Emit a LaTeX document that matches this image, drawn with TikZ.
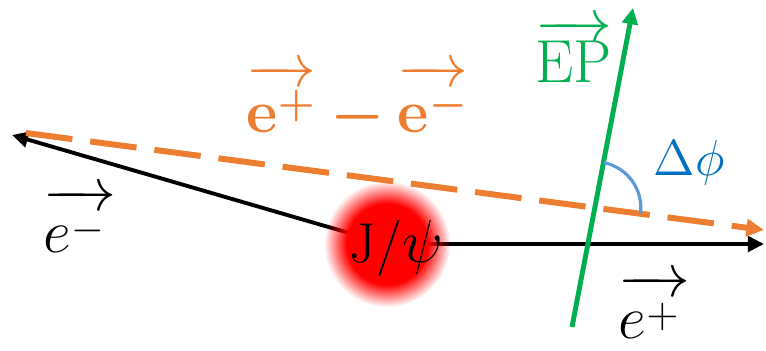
\documentclass[tikz,border=0pt]{standalone}
\usepackage{amsmath,amssymb,bm}
\usetikzlibrary{arrows.meta,positioning,calc,intersections,fadings}
\definecolor{eorange}{RGB}{237,125,49}
\definecolor{epgreen}{RGB}{0,176,80}
\definecolor{phiblue}{RGB}{0,112,192}
\definecolor{arcblue}{RGB}{91,155,213}
\newcommand{\vecup}[2][0.5em]{\overrightarrow{\smash[t]{#2}\rule{0pt}{#1}}}
\newcommand{\lowsup}[2][0.18em]{^{\raisebox{-#1}{$\scriptstyle #2$}}}
\pgfdeclareradialshading{glowshade}{\pgfpointorigin}{color(0bp)=(pgftransparent!0); color(16bp)=(pgftransparent!0); color(25bp)=(pgftransparent!100); color(50bp)=(pgftransparent!100)}
\pgfdeclarefading{glow}{\pgfuseshading{glowshade}}

\begin{document}
\begin{tikzpicture}[x=0.01cm,y=0.01cm,
  beam/.style={line width=1.1pt,-{Triangle[length=4.6pt,width=4.4pt]}},
  diffline/.style={eorange,line width=1.7pt,dash pattern=on 13.3pt off 5.1pt,-{Triangle[length=5pt,width=4.8pt]}},
  epline/.style={epgreen,line width=1.4pt,-{Triangle[length=4.6pt,width=4.4pt]}},
  lbl/.style={inner sep=0pt,anchor=base west}]
  \useasboundingbox (0,0) rectangle (766,350);
  % beams out of the J/psi
  \coordinate (jp) at (387,106);
  \coordinate (emtip) at (12,215); \coordinate (eptip) at (764,106);
  \draw[beam] (jp) -- (emtip);
  \draw[beam] (jp) -- (eptip);
  \fill[red,path fading=glow] (jp) circle (63);
  \node[lbl] (jpsi) at (349,88) {\fontsize{16}{18}\selectfont J/$\psi$};
  % difference vector and event plane
  \coordinate (dstart) at (26,217); \coordinate (dend) at (764,120);
  \coordinate (gbot) at (572,23); \coordinate (gtop) at (633,342);
  \draw[diffline,name path=diff] (dstart) -- (dend);
  \draw[epline,name path=ep] (gbot) -- (gtop);
  \path[name intersections={of=diff and ep,by=X}];
  \draw[arcblue,line width=0.9pt] ($(X)+(79.2:46)$) arc[start angle=79.2,end angle=-7.5,radius=46];
  % labels
  \node[lbl] (emlabel) at (43,98) {\fontsize{18}{20}\selectfont $\vecup[0.66em]{e\lowsup{-}\,}$};
  \node[lbl] (eplabel) at (618,12) {\fontsize{18}{20}\selectfont $\vecup[0.66em]{e\lowsup{+}\,}$};
  \node[lbl,text=eorange] (difflabel) at (246,218) {\fontsize{17.5}{20}\selectfont $\vecup[0.74em]{\mathbf{e}\lowsup[0.1em]{\bm{+}}}\bm{-}\vecup[0.74em]{\mathbf{e}\lowsup[0.1em]{\bm{-}}}$};
  \node[lbl,text=epgreen] (eplane) at (535,268) {\fontsize{17}{19}\selectfont $\vecup[0.68em]{\mathrm{EP}}$};
  \node[lbl,text=phiblue] (dphi) at (653,175) {\fontsize{13.5}{16}\selectfont $\Delta\phi$};
\end{tikzpicture}
\end{document}
